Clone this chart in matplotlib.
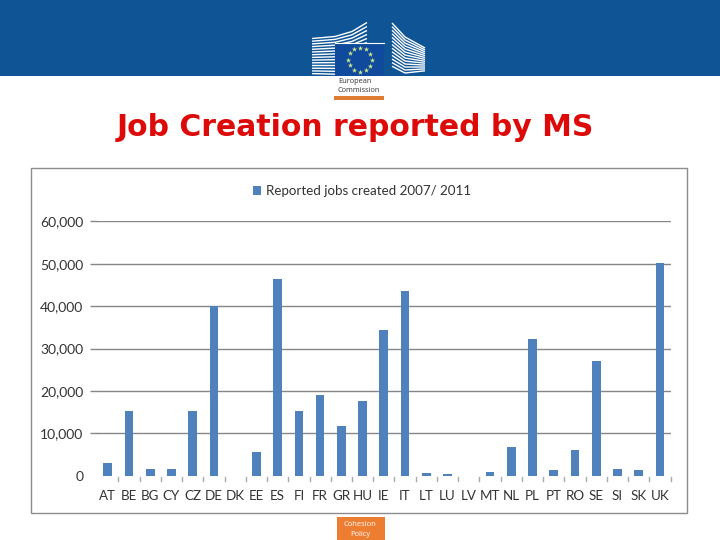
import numpy as np
import matplotlib
matplotlib.use('Agg')
import matplotlib.pyplot as plt
from matplotlib.patches import Rectangle
from matplotlib.ticker import FuncFormatter

countries = ['AT', 'BE', 'BG', 'CY', 'CZ', 'DE', 'DK', 'EE', 'ES', 'FI', 'FR', 'GR', 'HU', 'IE',
             'IT', 'LT', 'LU', 'LV', 'MT', 'NL', 'PL', 'PT', 'RO', 'SE', 'SI', 'SK', 'UK']
jobs = [3000, 15300, 1600, 1600, 15300, 40000, 0, 5600, 46400, 15300, 19000, 11700, 17600, 34400,
        43600, 600, 400, 0, 900, 6800, 32200, 1300, 6100, 27000, 1600, 1300, 50100]
y_ticks = [0, 10000, 20000, 30000, 40000, 50000, 60000]
series_name = 'Reported jobs created 2007/ 2011'
title = 'Job Creation reported by MS'

W, H = 720, 540
fig = plt.figure(figsize=(W / 100, H / 100), dpi=100, facecolor='white')

# page furniture drawn in pixel coordinates
bg = fig.add_axes([0, 0, 1, 1])
bg.set_xlim(0, W)
bg.set_ylim(H, 0)
bg.axis('off')
bg.add_patch(Rectangle((0, 0), W, 76, color='#0F5494', lw=0))

# logo: left wing
for i in range(14):
    y0 = 38.5 + i * 2.7
    xs = np.array([312, 335, 352, 367])
    ys = np.array([y0, y0 - 2 + i * 0.2, y0 - 7 + i * 0.6, y0 - 16 + i * 1.3])
    bg.plot(xs, np.minimum(ys, 75.5), color='white', lw=1.0, solid_capstyle='butt', zorder=2)
# logo: right wing
for i in range(13):
    y0 = 23 + i * 3.6
    xs = np.array([392, 405, 425])
    ys = np.array([y0, y0 + 14 - i * 0.6, y0 + 25 - i * 1.7])
    keep = ys <= 75
    bg.plot(xs[keep], ys[keep], color='white', lw=1.0, solid_capstyle='butt', zorder=2)
bg.add_patch(Rectangle((335, 43), 49, 33, color='#0F4A9C', lw=0, zorder=3))
bg.plot([335, 384], [43, 43], color='white', lw=0.8, zorder=4)
ang = np.linspace(0, 2 * np.pi, 12, endpoint=False)
bg.scatter(360 + 12 * np.sin(ang), 59.5 + 12 * np.cos(ang), marker='*', s=16, color='#CFE58A', lw=0, zorder=5)
bg.text(338, 81.5, 'European', fontsize=5.3, color='#333333', family='Open Sans', va='center')
bg.text(338, 90.5, 'Commission', fontsize=5.3, color='#333333', family='Open Sans', va='center')
bg.add_patch(Rectangle((334, 96), 50, 4, color='#E07B32', lw=0))

bg.text(355, 127, title, color='#DD0A0A', fontsize=21.5, fontweight='bold',
        family='DejaVu Sans', ha='center', va='center')

bg.add_patch(Rectangle((31, 168), 656, 345, fc='white', ec='#8C8C8C', lw=1))
bg.add_patch(Rectangle((337, 517), 48, 23, color='#ED7D31', lw=0))
bg.text(360, 524, 'Cohesion', color='white', fontsize=5.5, family='Open Sans', ha='center', va='center')
bg.text(360, 535, 'Policy', color='white', fontsize=5.5, family='Open Sans', ha='center', va='center')

# chart
left, right, top, bottom = 97.1, 670.6, 221.3, 475.7
ax = fig.add_axes([left / W, 1 - bottom / H, (right - left) / W, (bottom - top) / H])
ax.patch.set_alpha(0)
x = np.arange(len(countries))
ax.bar(x, jobs, width=0.41, color='#4F81BD', label=series_name, zorder=3)
ax.set_xlim(-0.5, len(countries) - 0.5)
ax.set_ylim(0, 60000)
ax.set_yticks(y_ticks)
ax.yaxis.set_major_formatter(FuncFormatter(lambda v, _: f'{v:,.0f}'))
ax.grid(axis='y', color='#868686', lw=1, zorder=0)
ax.set_axisbelow(True)
for s in ['top', 'right', 'left', 'bottom']:
    ax.spines[s].set_visible(False)
ax.set_xticks(x, countries)
ax.tick_params(axis='y', length=5, width=1, color='#868686', labelsize=10, labelcolor='#333333', pad=5)
ax.tick_params(axis='x', length=0, labelsize=9.6, labelcolor='#333333', pad=10)
# no axis line at zero in the original
zero_tick = ax.yaxis.get_major_ticks()[0]
zero_tick.gridline.set_visible(False)
zero_tick.tick1line.set_visible(False)
for b in np.arange(len(countries)) + 0.5:
    ax.plot([b, b], [-0.004, -0.02], transform=ax.get_xaxis_transform(), color='#AAAAAA', lw=1, clip_on=False)
for lab in ax.get_xticklabels() + ax.get_yticklabels():
    lab.set_family('Lato')

ax.legend(loc='center', bbox_to_anchor=((362 - left) / (right - left), 1 + (221.3 - 191) / (bottom - top)),
          frameon=False, handlelength=0.6, handleheight=0.6, handletextpad=0.4,
          prop={'family': 'Lato', 'size': 9.6}, labelcolor='#333333')

fig.savefig('out.png', dpi=100)
